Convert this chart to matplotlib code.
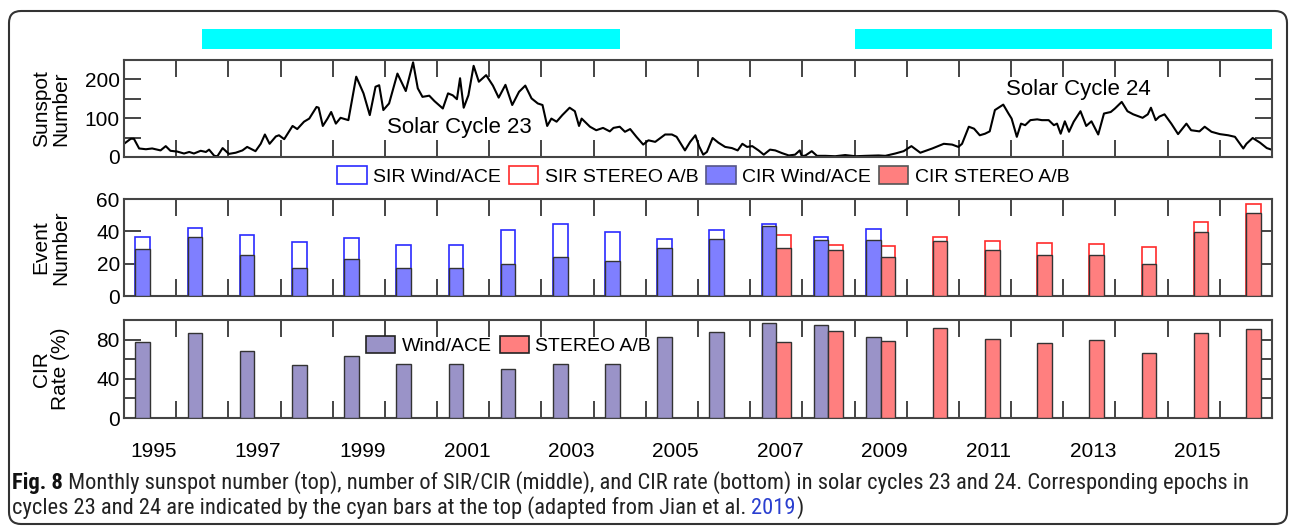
import matplotlib
matplotlib.use("Agg")
import matplotlib.pyplot as plt
from matplotlib.patches import Patch, FancyBboxPatch
from matplotlib.transforms import IdentityTransform
from matplotlib import font_manager

# ---------------- data ----------------
ssn_time = [1995.00, 1995.13, 1995.19, 1995.29, 1995.42, 1995.54, 1995.70, 1995.80, 1995.89,
            1996.02, 1996.15, 1996.25, 1996.34, 1996.47, 1996.57, 1996.63, 1996.73, 1996.79, 1996.89,
            1997.01, 1997.14, 1997.27, 1997.36, 1997.52, 1997.62, 1997.70, 1997.79, 1997.91, 1997.97,
            1998.07, 1998.16, 1998.23, 1998.32, 1998.45, 1998.55, 1998.69, 1998.73, 1998.81, 1998.90, 1998.97,
            1999.06, 1999.15, 1999.30, 1999.45, 1999.59, 1999.71, 1999.82, 1999.89, 1999.97,
            2000.08, 2000.24, 2000.40, 2000.54, 2000.63, 2000.72, 2000.85, 2000.95,
            2001.11, 2001.21, 2001.30, 2001.38, 2001.44, 2001.51, 2001.60, 2001.70, 2001.80, 2001.94,
            2002.07, 2002.18, 2002.31, 2002.44, 2002.57, 2002.69, 2002.81, 2002.93,
            2003.02, 2003.11, 2003.19, 2003.29, 2003.40, 2003.54, 2003.64, 2003.72, 2003.77, 2003.93,
            2004.05, 2004.18, 2004.31, 2004.38, 2004.50, 2004.60, 2004.70, 2004.82, 2004.95,
            2005.05, 2005.18, 2005.37, 2005.50, 2005.59, 2005.75, 2005.85, 2005.95,
            2006.02, 2006.10, 2006.17, 2006.28, 2006.39, 2006.52, 2006.65, 2006.76, 2006.85, 2006.94,
            2007.04, 2007.16, 2007.26, 2007.38, 2007.48, 2007.61, 2007.74, 2007.86, 2007.95, 2007.99,
            2008.06, 2008.18, 2008.28, 2008.44, 2008.63, 2008.82,
            2009.02, 2009.21, 2009.46, 2009.59, 2009.78, 2009.94,
            2010.09, 2010.26, 2010.49, 2010.71, 2010.87, 2010.99,
            2011.06, 2011.19, 2011.29, 2011.40, 2011.50, 2011.59, 2011.69, 2011.85, 2011.95,
            2012.01, 2012.11, 2012.19, 2012.27, 2012.37, 2012.50, 2012.59, 2012.72, 2012.82, 2012.88, 2012.95,
            2013.03, 2013.11, 2013.20, 2013.33, 2013.44, 2013.54, 2013.67, 2013.78, 2013.91, 2013.99,
            2014.12, 2014.23, 2014.34, 2014.42, 2014.52, 2014.62, 2014.68, 2014.77, 2014.84, 2014.94,
            2015.07, 2015.20, 2015.36, 2015.45, 2015.61, 2015.71, 2015.84,
            2016.00, 2016.16, 2016.29, 2016.37, 2016.45, 2016.51, 2016.63, 2016.77, 2016.90, 2016.99]
ssn_value = [34, 47, 47, 22, 20, 22, 17, 28, 16,
             14, 9, 13, 9, 16, 13, 19, 3, 2, 23,
             8, 11, 17, 26, 15, 34, 58, 34, 53, 56,
             46, 65, 80, 72, 91, 99, 129, 127, 80, 99, 116,
             86, 101, 95, 207, 164, 108, 181, 185, 121,
             138, 215, 170, 244, 177, 155, 158, 144,
             125, 164, 159, 149, 203, 127, 159, 235, 194, 211,
             184, 153, 186, 134, 168, 184, 151, 138,
             134, 80, 99, 91, 108, 127, 118, 80, 99, 78,
             69, 75, 66, 75, 78, 65, 72, 52, 32,
             43, 39, 58, 58, 52, 17, 39, 56,
             28, 6, 13, 49, 37, 26, 23, 17, 34, 26,
             28, 17, 6, 19, 17, 10, 4, 6, 17, 2,
             4, 15, 3, 3, 2, 5,
             2, 3, 4, 3, 9, 15,
             28, 11, 22, 34, 32, 26,
             34, 78, 73, 56, 60, 66, 121, 135, 112,
             99, 52, 86, 82, 95, 97, 95, 95, 82, 86, 60,
             92, 65, 91, 118, 80, 92, 58, 112, 116, 125,
             142, 118, 110, 106, 101, 110, 127, 95, 104, 110,
             86, 59, 86, 69, 66, 78, 65,
             59, 56, 52, 37, 22, 34, 49, 37, 23, 19]

wind_years = list(range(1995, 2010))
wind_total = [36.6, 42.0, 37.9, 33.1, 35.6, 31.7, 31.7, 41.0, 44.5, 39.7, 35.3, 41.0, 44.3, 36.5, 41.6]
wind_cir = [29.0, 36.6, 25.4, 17.6, 23.0, 17.6, 17.6, 19.9, 24.4, 21.9, 29.7, 35.3, 43.5, 34.5, 34.5]
wind_rate = [78, 87, 68, 54.5, 63.5, 55.5, 55.5, 49.5, 55, 55, 83, 87.5, 97, 94.5, 83]

stereo_years = list(range(2007, 2017))
stereo_total = [38.0, 31.8, 31.2, 36.5, 34.3, 32.8, 32.2, 30.2, 45.5, 56.6]
stereo_cir = [29.7, 28.3, 24.2, 34.0, 28.3, 25.2, 25.2, 20.1, 39.4, 51.5]
stereo_rate = [77.5, 89, 79, 91.5, 81, 77, 79.5, 66, 87, 90.5]

cyan_epochs = [(1996.5, 2004.5), (2009.0, 2017.0)]
label_years = [1995, 1997, 1999, 2001, 2003, 2005, 2007, 2009, 2011, 2013, 2015]

# ---------------- style ----------------
plt.rcParams['font.family'] = ['Liberation Sans', 'DejaVu Sans']
W, H = 1290, 527
fig = plt.figure(figsize=(W / 100, H / 100), dpi=100)

def fx(px):
    return px / W

def fy(py):
    return 1 - py / H

L, R = 124, 1272
axw = fx(R) - fx(L)
SP = '#444444'
BAR_W = 0.28
WOFF, SOFF = 0.36, 0.64

def style_axes(ax, yticks, ylabels, ylim):
    ax.set_xlim(1995, 2017)
    ax.set_ylim(*ylim)
    ax.set_xticks(list(range(1996, 2017)))
    ax.set_xticklabels([])
    ax.set_yticks(yticks)
    ax.set_yticklabels(ylabels)
    ax.tick_params(axis='both', which='major', direction='in', length=12, width=1.4,
                   color=SP, top=True, right=True, labelsize=15, pad=3)
    for s in ax.spines.values():
        s.set_color(SP)
        s.set_linewidth(1.5)

# cyan epoch bars
ax0 = fig.add_axes([fx(L), fy(48.5), axw, fy(29) - fy(48.5)])
ax0.set_xlim(1995, 2017)
ax0.set_ylim(0, 1)
ax0.broken_barh([(s, e - s) for s, e in cyan_epochs], (0, 1), facecolor='#00ffff')
ax0.axis('off')

# top: sunspot
ax1 = fig.add_axes([fx(L), fy(157), axw, fy(60) - fy(157)])
ax1.plot(ssn_time, ssn_value, color='black', lw=1.5)
style_axes(ax1, [0, 50, 100, 150, 200], ['0', '', '100', '', '200'], (0, 250))
ax1.text(2001.42, 77, 'Solar Cycle 23', ha='center', va='center', fontsize=16)
ax1.text(2013.28, 175, 'Solar Cycle 24', ha='center', va='center', fontsize=16)

# middle: event numbers
ax2 = fig.add_axes([fx(L), fy(296), axw, fy(199) - fy(296)])
wx = [y + WOFF for y in wind_years]
sx = [y + SOFF for y in stereo_years]
ax2.bar(wx, wind_total, width=BAR_W, facecolor='white', edgecolor='#2b2bff', lw=1.2, zorder=2)
ax2.bar(sx, stereo_total, width=BAR_W, facecolor='white', edgecolor='#ff2b2b', lw=1.2, zorder=2)
ax2.bar(wx, wind_cir, width=BAR_W, facecolor='#7f7fff', edgecolor='#333333', lw=1.0, zorder=3)
ax2.bar(sx, stereo_cir, width=BAR_W, facecolor='#ff7f7f', edgecolor='#333333', lw=1.0, zorder=3)
style_axes(ax2, [0, 20, 40, 60], ['0', '20', '40', '60'], (0, 60))

# bottom: CIR rate
ax3 = fig.add_axes([fx(L), fy(418), axw, fy(320) - fy(418)])
ax3.bar(wx, wind_rate, width=BAR_W, facecolor='#9a93c8', edgecolor='#333333', lw=1.0, zorder=3)
ax3.bar(sx, stereo_rate, width=BAR_W, facecolor='#ff7f7f', edgecolor='#333333', lw=1.0, zorder=3)
style_axes(ax3, [0, 20, 40, 60, 80], ['0', '', '40', '', '80'], (0, 100))
ax3.set_xticks([y + 0.57 for y in label_years], minor=True)
ax3.set_xticklabels([str(y) for y in label_years], minor=True)
ax3.tick_params(axis='x', which='minor', length=0, labelsize=15, pad=17, top=False)

# y labels
for ax, txt, ytop, ybot in [(ax1, 'Sunspot\nNumber', 60, 157),
                            (ax2, 'Event\nNumber', 199, 296),
                            (ax3, 'CIR\nRate (%)', 320, 418)]:
    fig.text(fx(51), fy((ytop + ybot) / 2), txt, rotation=90, ha='center', va='center',
             multialignment='center', fontsize=15, linespacing=1.05)

# legends
leg_handles = [Patch(facecolor='white', edgecolor='#2b2bff', lw=1.2, label='SIR Wind/ACE'),
               Patch(facecolor='white', edgecolor='#ff2b2b', lw=1.2, label='SIR STEREO A/B'),
               Patch(facecolor='#7f7fff', edgecolor='#555588', lw=1.2, label='CIR Wind/ACE'),
               Patch(facecolor='#ff7f7f', edgecolor='#555555', lw=1.2, label='CIR STEREO A/B')]
fig.legend(handles=leg_handles, loc='center', bbox_to_anchor=(fx(703.5), fy(176)), ncol=4,
           frameon=False, fontsize=14, handlelength=1.5, handleheight=1.0,
           handletextpad=0.35, columnspacing=0.4, borderaxespad=0, borderpad=0)

leg3_handles = [Patch(facecolor='#9a93c8', edgecolor='#222222', lw=1.2, label='Wind/ACE'),
                Patch(facecolor='#ff7f7f', edgecolor='#222222', lw=1.2, label='STEREO A/B')]
ax3.legend(handles=leg3_handles, loc='center', bbox_to_anchor=(fx(508.5), fy(345.5)),
           bbox_transform=fig.transFigure, ncol=2, frameon=False, fontsize=14,
           handlelength=1.5, handleheight=1.0, handletextpad=0.35, columnspacing=0.4,
           borderaxespad=0, borderpad=0)

# rounded border
border = FancyBboxPatch((9, 3), 1278, 513, boxstyle='round,pad=0,rounding_size=12',
                        transform=IdentityTransform(), fill=False, edgecolor='#333333', lw=1.5)
fig.add_artist(border)

# caption font: prefer a condensed face
ttf = font_manager.fontManager.ttflist
names = {f.name for f in ttf}
cap_kw = {'family': ['DejaVu Sans']}
for nm in ['Liberation Sans Narrow', 'Roboto Condensed', 'Open Sans Condensed']:
    if nm in names:
        cap_kw = {'family': [nm]}
        break
else:
    if any(f.name == 'DejaVu Sans' and str(f.stretch) in ('condensed', 'semi-condensed')
           for f in ttf):
        cap_kw = {'family': ['DejaVu Sans'], 'fontstretch': 'condensed'}

renderer = fig.canvas.get_renderer()
cap1 = ('Monthly sunspot number (top), number of SIR/CIR (middle), and CIR rate (bottom) in solar '
        'cycles 23 and 24. Corresponding epochs in')
cap2a = 'cycles 23 and 24 are indicated by the cyan bars at the top (adapted from Jian et al. '
cap2b = '2019'
cap2c = ')'
fs = 14
t0 = fig.text(fx(12), fy(483), 'Fig. 8', fontsize=fs, fontweight='bold',
              va='center', ha='left', color='#111111', **cap_kw)
t1 = fig.text(0, fy(483), ' ' + cap1, fontsize=fs, va='center', ha='left',
              color='#222222', **cap_kw)
bb0 = t0.get_window_extent(renderer)
bb1 = t1.get_window_extent(renderer)
total = bb0.width + bb1.width
fs = fs * (1252 - 12) / total
t0.set_fontsize(fs)
t1.set_fontsize(fs)
bb0 = t0.get_window_extent(renderer)
t1.set_x((bb0.x1) / W)
t2 = fig.text(fx(12), fy(508), cap2a, fontsize=fs, va='center', ha='left',
              color='#222222', **cap_kw)
bb2 = t2.get_window_extent(renderer)
t3 = fig.text(bb2.x1 / W, fy(508), cap2b, fontsize=fs, va='center', ha='left',
              color='#2a3fd0', **cap_kw)
bb3 = t3.get_window_extent(renderer)
fig.text(bb3.x1 / W, fy(508), cap2c, fontsize=fs, va='center', ha='left',
         color='#222222', **cap_kw)

fig.savefig('out.png', dpi=100)
